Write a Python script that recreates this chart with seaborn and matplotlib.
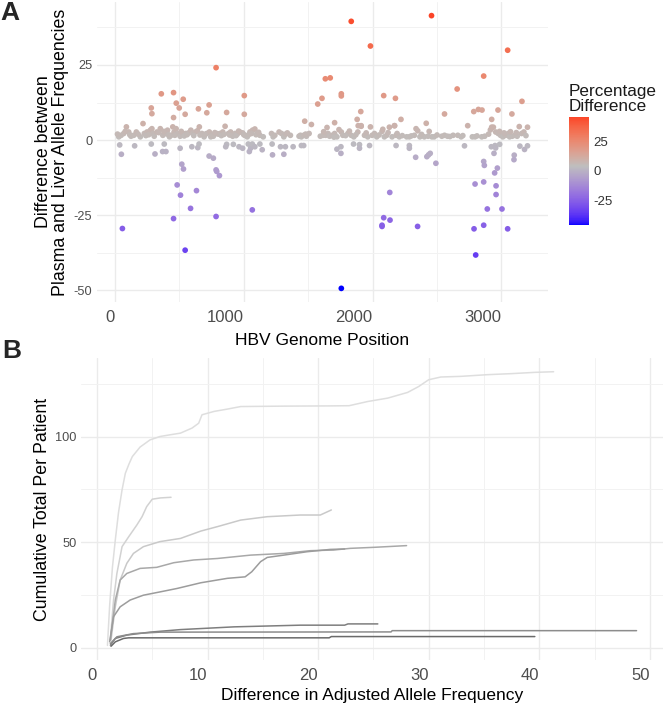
import numpy as np
import pandas as pd
import matplotlib
matplotlib.use("Agg")
import matplotlib.pyplot as plt
import seaborn as sns
from matplotlib.colors import ListedColormap, Normalize, to_rgb
from matplotlib.ticker import MultipleLocator
from matplotlib.cm import ScalarMappable

# ---------------- Panel A data: genome position vs. plasma-liver difference ----------------
genome_pos = [
    # near-zero positives (0-1450)
    30, 48, 68, 89, 107, 125, 146, 166, 197, 228, 249, 275, 287, 295, 305, 326, 352, 372, 390, 408,
    423, 436, 449, 459, 475, 490, 506, 527, 548, 571, 589, 604, 625, 640, 655, 675, 692, 712, 733, 744,
    764, 790, 803, 816, 837, 855, 881, 898, 914, 932, 950, 970, 991, 1009, 1027, 1048, 1068, 1086, 1104, 1125,
    1151, 1215, 1228, 1241, 1274, 1293, 1311, 1326, 1362, 1429,
    20, 80, 115, 180, 240, 262, 340, 380, 415, 465, 515, 538, 560, 612, 660, 700, 752, 775, 826, 846,
    890, 940, 960, 1000, 1040, 1060, 1095, 1115, 1338, 1440,
    # near-zero positives (1450-3215)
    1447, 1465, 1486, 1507, 1594, 1615, 1635, 1654, 1666, 1687, 1705, 1723, 1739, 1757, 1769, 1808, 1834, 1854, 1885, 1911,
    1937, 1962, 1983, 1996, 2014, 2032, 2073, 2079, 2091, 2109, 2130, 2151, 2169, 2182, 2207, 2264, 2285, 2324, 2337, 2350,
    2367, 2401, 2439, 2460, 2478, 2537, 2558, 2581, 2625, 2661, 2687, 2774, 2795, 2847, 2914, 2924, 2937, 2955, 2975, 2993,
    3011, 3032, 3053, 3063, 3084, 3104, 3122, 3138, 3156, 3174, 3202,
    1480, 1620, 1700, 1790, 1820, 1870, 1950, 2050, 2120, 2190, 2230, 2300, 2380, 2430, 2500, 2600, 2700, 2810, 2870, 2900,
    2985, 3020, 3070, 3115, 3190,
    # near-zero negatives
    37, 50, 153, 282, 311, 370, 396, 383, 506, 597, 643, 653, 731, 764, 867, 860, 919, 963, 991, 1035,
    1053, 1043, 1066, 1086, 1125, 1143, 1220, 1223, 1285, 1311, 1323, 1383,
    1465, 1447, 1723, 1754, 1754, 1852, 1898, 1898, 1976, 2182, 2285, 2285, 2334, 2421, 2434, 2447, 2491, 2713, 2921, 2950,
    2955, 2986, 2942, 2862, 2867, 2968, 2947, 3099, 3097, 3143, 3179, 3202,
    # larger positive differences
    360, 282, 287, 218, 455, 476, 530, 499, 545, 455, 648, 731, 713, 785, 867, 1004, 1004,
    1834, 2457, 1983, 3048, 1633, 1671, 2862, 2656, 1757, 1757, 2086, 2177, 1607, 1574, 3159, 2558, 3081, 2785,
    2821, 2849, 2973, 1908, 1880, 1473, 1525, 2220, 2416, 2738, 2924, 1705, 2171, 1888, 1911, 1646,
    # larger negative differences
    58, 519, 532, 785, 790, 811, 483, 509, 633, 587, 455, 785, 1066, 545,
    2795, 2862, 2958, 2958, 2133, 2890, 3004, 2086, 2073, 2073, 2135, 2349, 2787, 2862, 3048, 2800, 1757,
]
allele_diff = [
    1.1, 1.6, 2.2, 4.4, 2.7, 1.3, 1.6, 2.7, 1.1, 2.2, 2.7, 3.3, 3.8, 2.2, 1.3, 2.7, 3.8, 1.6, 2.2, 3.3,
    1.1, 1.6, 4.4, 2.7, 3.8, 2.2, 1.3, 2.0, 2.2, 2.4, 3.3, 2.2, 2.7, 3.1, 4.4, 2.2, 1.1, 2.2, 2.7, 1.1,
    1.3, 2.2, 2.0, 2.2, 2.7, 4.6, 2.2, 2.7, 1.3, 2.2, 2.0, 2.7, 2.4, 1.6, 1.1, 2.7, 3.3, 3.7, 2.2, 1.6,
    1.1, 2.2, 1.1, 1.6, 2.7, 2.2, 1.1, 2.0, 1.6, 1.3,
    2.0, 2.9, 1.8, 2.0, 1.5, 1.8, 2.5, 2.9, 1.8, 1.6, 2.9, 1.4, 1.8, 1.5, 1.7, 1.9, 1.6, 2.5, 1.5, 1.9,
    1.7, 1.5, 3.0, 1.8, 1.9, 2.2, 1.8, 2.6, 2.4, 1.6,
    1.1, 1.6, 1.3, 2.2, 1.3, 1.6, 1.6, 2.2, 1.3, 1.6, 2.2, 1.1, 3.5, 2.7, 1.6, 2.2, 1.6, 1.1, 2.7, 4.6,
    1.6, 1.1, 4.4, 1.6, 2.2, 1.1, 2.9, 3.6, 1.1, 1.6, 4.3, 1.1, 4.8, 1.6, 1.1, 1.1, 1.1, 1.6, 3.8, 3.1,
    1.1, 1.1, 2.9, 1.1, 1.1, 1.3, 1.6, 1.3, 1.6, 1.6, 1.1, 1.1, 1.1, 1.1, 3.4, 4.3, 4.3, 2.7, 2.2, 1.6,
    1.1, 1.6, 2.2, 1.1, 1.3, 1.6, 1.3, 4.5, 2.2, 2.7, 4.3,
    2.0, 2.8, 1.0, 1.5, 3.0, 1.8, 2.4, 1.7, 2.5, 2.2, 1.5, 1.4, 1.9, 1.3, 1.7, 1.2, 1.5, 1.4, 1.3, 2.0,
    2.9, 2.4, 2.8, 2.5, 1.5,
    -1.6, -4.7, -1.9, -1.3, -4.6, -3.8, -3.8, -1.3, -2.7, -2.2, -2.5, -1.3, -5.3, -6.0, -1.4, -2.2, -1.4, -2.2, -2.7, -1.3,
    -2.7, -3.8, -1.3, -2.2, -1.3, -3.2, -1.3, -4.9, -2.2, -4.7, -2.2, -2.2,
    -1.8, -1.8, -3.0, -2.2, -4.4, -1.3, -1.5, -2.7, -1.8, -1.8, -1.8, -2.7, -5.7, -5.5, -4.9, -4.4, -7.7, -1.9, -2.2, -1.8,
    -2.6, -1.4, -4.4, -7.1, -8.4, -9.3, -10.9, -5.0, -6.5, -2.0, -3.1, -1.9,
    15.4, 10.7, 8.8, 5.5, 15.8, 12.3, 13.6, 10.7, 8.6, 7.5, 10.4, 11.7, 9.1, 24.1, 9.2, 14.8, 8.6,
    39.5, 41.4, 31.3, 29.9, 20.4, 20.7, 21.3, 17.0, 15.4, 14.7, 14.8, 13.9, 13.9, 12.0, 12.9, 8.7, 8.7, 9.5,
    10.2, 10.0, 10.0, 9.5, 6.9, 6.3, 5.2, 6.9, 5.6, 4.8, 6.9, 5.8, 4.8, 4.8, 4.8, 4.2,
    -29.4, -8.0, -9.6, -9.9, -10.4, -11.8, -14.9, -18.3, -16.8, -22.7, -26.1, -25.4, -23.2, -36.6,
    -14.6, -13.9, -15.2, -18.1, -17.4, -22.9, -22.9, -25.8, -28.3, -28.7, -26.6, -28.7, -29.5, -28.3, -29.5, -38.2, -49.3,
]

# ---------------- Panel B data: cumulative totals per patient ----------------
p1_diff = [0.95, 1.15, 1.4, 1.66, 1.95, 2.27, 2.57, 2.9, 3.2, 3.9, 4.8, 5.7, 6.6, 7.55, 8.6, 9.2, 9.5, 10.6,
           11.8, 13.0, 17.0, 21.0, 22.8, 24.5, 26.3, 28.1, 29.1, 30.0, 31.1, 32.9, 35.3, 37.5, 39.6, 41.3]
p1_cum = [1, 20, 38, 51, 64, 74.7, 82.6, 87, 90.5, 95, 98.4, 100, 100.8, 101.6, 104, 106.3, 110.3, 111.9,
          113, 114.2, 114.4, 114.5, 114.6, 116.6, 118.2, 120.9, 123.7, 126.9, 128.2, 128.5, 129.3, 129.8, 130.4, 130.7]
p2_diff = [1.21, 1.5, 1.8, 2.27, 2.87, 3.6, 4.08, 4.5, 5.0, 5.74, 6.7]
p2_cum = [3.5, 22.5, 35, 47.8, 52.5, 58, 62, 66.8, 70.3, 70.9, 71.2]
p3_diff = [1.27, 1.66, 2.1, 2.7, 3.3, 4.2, 5.7, 7.55, 9.4, 10.9, 13.0, 15.4, 18.4, 20.2, 21.2]
p3_cum = [3.5, 19.3, 32, 39.9, 44.6, 47.8, 50.2, 51.7, 55.2, 57.3, 60.4, 62, 62.8, 62.8, 65.2]
p4_diff = [1.21, 1.66, 2.1, 2.7, 3.9, 5.4, 6.95, 8.76, 10.9, 13.9, 16.9, 19.3, 21.4, 22.9, 25.1, 28.0]
p4_cum = [3.5, 22.5, 32, 35.1, 37.5, 38, 40.2, 41.5, 42.2, 43.8, 44.6, 45.9, 46.2, 47, 47.5, 48.3]
p5_diff = [1.15, 1.5, 2.1, 3.0, 4.2, 5.74, 7.25, 9.4, 11.8, 13.4, 14.0, 14.8, 15.4, 16.9, 19.0, 21.1, 22.4]
p5_cum = [2.7, 14.6, 19.3, 22.5, 24.8, 26.4, 28, 30.7, 32.8, 33.5, 35.9, 40.7, 42.7, 43.8, 45.4, 46.5, 46.7]
p6_diff = [1.21, 1.66, 2.7, 4.8, 7.55, 12.4, 18.4, 22.4, 22.7, 25.4]
p6_cum = [1.1, 4.3, 5.9, 7.3, 8.5, 9.8, 10.6, 10.6, 11.2, 11.2]
p7_diff = [1.21, 1.81, 3.3, 5.74, 26.6, 26.7, 48.8]
p7_cum = [1.9, 5.1, 6.6, 7.3, 7.4, 8.0, 8.0]
p8_diff = [1.27, 1.66, 2.4, 2.87, 21.0, 21.2, 39.6]
p8_cum = [0.6, 2.7, 4.3, 4.6, 4.6, 5.2, 5.2]
patients = ["P1", "P2", "P3", "P4", "P5", "P6", "P7", "P8"]
patient_greys = ["#DEDEDE", "#D2D2D2", "#C9C9C9", "#A8A8A8", "#9C9C9C", "#7E7E7E", "#8C8C8C", "#6A6A6A"]

# ---------------- styling ----------------
sns.set_style("white")
plt.rcParams["font.family"] = ["Liberation Sans", "DejaVu Sans"]
plt.rcParams["axes.unicode_minus"] = False

W, H = 663, 705
fig = plt.figure(figsize=(W / 100, H / 100), dpi=100)


def ax_rect(x0, y0, x1, y1):
    return [x0 / W, 1 - y1 / H, (x1 - x0) / W, (y1 - y0) / H]


axA = fig.add_axes(ax_rect(97, 2, 548, 302))
axB = fig.add_axes(ax_rect(81, 358, 663, 660))
cax = fig.add_axes(ax_rect(569, 117, 589, 225))

GRID = "#EBEBEB"
TICK_COL = "#4D4D4D"


def lab_f(t):
    d = 6 / 29
    return np.where(t > d ** 3, np.cbrt(t), t / (3 * d * d) + 4 / 29)


def lab_finv(t):
    d = 6 / 29
    return np.where(t > d, t ** 3, 3 * d * d * (t - 4 / 29))


WHITE = np.array([0.95047, 1.0, 1.08883])
M_RGB2XYZ = np.array([[0.4124564, 0.3575761, 0.1804375],
                      [0.2126729, 0.7151522, 0.0721750],
                      [0.0193339, 0.1191920, 0.9503041]])


def rgb2lab(c):
    c = np.asarray(c, float)
    lin = np.where(c <= 0.04045, c / 12.92, ((c + 0.055) / 1.055) ** 2.4)
    xyz = M_RGB2XYZ @ lin / WHITE
    fx, fy, fz = lab_f(xyz)
    return np.array([116 * fy - 16, 500 * (fx - fy), 200 * (fy - fz)])


def lab2rgb(lab):
    L, a, b = lab
    fy = (L + 16) / 116
    fx = fy + a / 500
    fz = fy - b / 200
    xyz = lab_finv(np.array([fx, fy, fz])) * WHITE
    lin = np.linalg.solve(M_RGB2XYZ, xyz)
    lin = np.clip(lin, 0, 1)
    c = np.where(lin <= 0.0031308, 12.92 * lin, 1.055 * lin ** (1 / 2.4) - 0.055)
    return np.clip(c, 0, 1)


low, mid, high = rgb2lab(to_rgb("#0000FF")), rgb2lab(to_rgb("#BEBEBE")), rgb2lab(to_rgb("#FF0000"))
ramp = []
for t in np.linspace(0, 1, 256):
    if t <= 0.5:
        u = t / 0.5
        ramp.append(lab2rgb(low + (mid - low) * u))
    else:
        u = (t - 0.5) / 0.5
        ramp.append(lab2rgb(mid + (high - mid) * u))
cmap = ListedColormap(ramp)
max_abs = max(abs(min(allele_diff)), abs(max(allele_diff)))
norm = Normalize(vmin=-max_abs, vmax=max_abs)

# ---------------- Panel A ----------------
dfA = pd.DataFrame({"pos": genome_pos, "diff": allele_diff})
sns.scatterplot(data=dfA, x="pos", y="diff", hue="diff", palette=cmap, hue_norm=norm,
                s=17, linewidth=0, legend=False, ax=axA, zorder=3)


def expand(vals, frac=0.05):
    lo, hi = min(vals), max(vals)
    p = (hi - lo) * frac
    return lo - p, hi + p


axA.set_xlim(*expand(genome_pos))
axA.set_ylim(*expand(allele_diff))
axA.xaxis.set_major_locator(MultipleLocator(1000))
axA.xaxis.set_minor_locator(MultipleLocator(500))
axA.yaxis.set_major_locator(MultipleLocator(25))
axA.yaxis.set_minor_locator(MultipleLocator(12.5))

# ---------------- Panel B ----------------
diffs = [p1_diff, p2_diff, p3_diff, p4_diff, p5_diff, p6_diff, p7_diff, p8_diff]
cums = [p1_cum, p2_cum, p3_cum, p4_cum, p5_cum, p6_cum, p7_cum, p8_cum]
rows = []
for pid, dx, cy in zip(patients, diffs, cums):
    for a, b in zip(dx, cy):
        rows.append((pid, a, b))
dfB = pd.DataFrame(rows, columns=["patient", "adiff", "cum"])
sns.lineplot(data=dfB, x="adiff", y="cum", hue="patient", hue_order=patients,
             palette=dict(zip(patients, patient_greys)), estimator=None, sort=False,
             legend=False, lw=1.1, ax=axB, zorder=3)
all_x = [v for d in diffs for v in d]
all_y = [v for c in cums for v in c]
axB.set_xlim(*expand(all_x))
axB.set_ylim(*expand(all_y))
axB.xaxis.set_major_locator(MultipleLocator(10))
axB.xaxis.set_minor_locator(MultipleLocator(5))
axB.yaxis.set_major_locator(MultipleLocator(50))
axB.yaxis.set_minor_locator(MultipleLocator(25))

for ax in (axA, axB):
    for s in ax.spines.values():
        s.set_visible(False)
    ax.grid(True, which="major", color=GRID, lw=1.0, zorder=0)
    ax.grid(True, which="minor", color="#F2F2F2", lw=0.7, zorder=0)
    ax.set_axisbelow(True)
    ax.tick_params(which="both", length=0)
    ax.tick_params(axis="y", labelsize=9.2, labelcolor=TICK_COL, pad=3.4)
    ax.tick_params(axis="x", labelsize=12, labelcolor=TICK_COL, pad=6)

axA.set_xlabel("HBV Genome Position", fontsize=12.5, color="black")
axA.set_ylabel("Difference between\nPlasma and Liver Allele Frequencies", fontsize=12.8,
               color="black", linespacing=1.05)
axA.xaxis.set_label_coords(0.5, -0.13)
axA.xaxis.label.set_va("center")
axA.yaxis.set_label_coords(-0.10, 0.5)
axA.yaxis.label.set_va("center")

axB.set_xlabel("Difference in Adjusted Allele Frequency", fontsize=12.5, color="black")
axB.set_ylabel("Cumulative Total Per Patient", fontsize=12.8, color="black")
axB.xaxis.set_label_coords(0.5, -0.116)
axB.xaxis.label.set_va("center")
axB.yaxis.set_label_coords(-0.066, 0.5)
axB.yaxis.label.set_va("center")

# ---------------- colour bar ----------------
sm = ScalarMappable(norm=norm, cmap=cmap)
cb = fig.colorbar(sm, cax=cax, boundaries=np.linspace(min(allele_diff), max(allele_diff), 300))
cb.outline.set_visible(False)
cb.set_ticks([-25, 0, 25])
cax.yaxis.set_ticks_position("both")
cax.tick_params(axis="y", which="major", direction="in", length=4, width=0.8, color="white",
                labelsize=9.5, labelcolor="#333333", pad=3, labelright=True, labelleft=False)
cax.tick_params(which="minor", length=0)
cax.set_title("Percentage\nDifference", loc="left", fontsize=12.3, pad=4, linespacing=1.0,
              color="#1A1A1A")

# ---------------- panel letters ----------------
fig.text(0.0, 1 - 1 / H, "A", fontsize=19, fontweight="bold", ha="left", va="top")
fig.text(0.003, 1 - 339 / H, "B", fontsize=19, fontweight="bold", ha="left", va="top")

# tick-label alignment as in the reference (x labels end at their tick, bar labels hang below)
fig.canvas.draw()
for ax in (axA, axB):
    for lbl in ax.get_xticklabels():
        lbl.set_horizontalalignment("right")
for lbl in cax.get_yticklabels():
    lbl.set_verticalalignment("top")

fig.savefig("out.png", dpi=100)
